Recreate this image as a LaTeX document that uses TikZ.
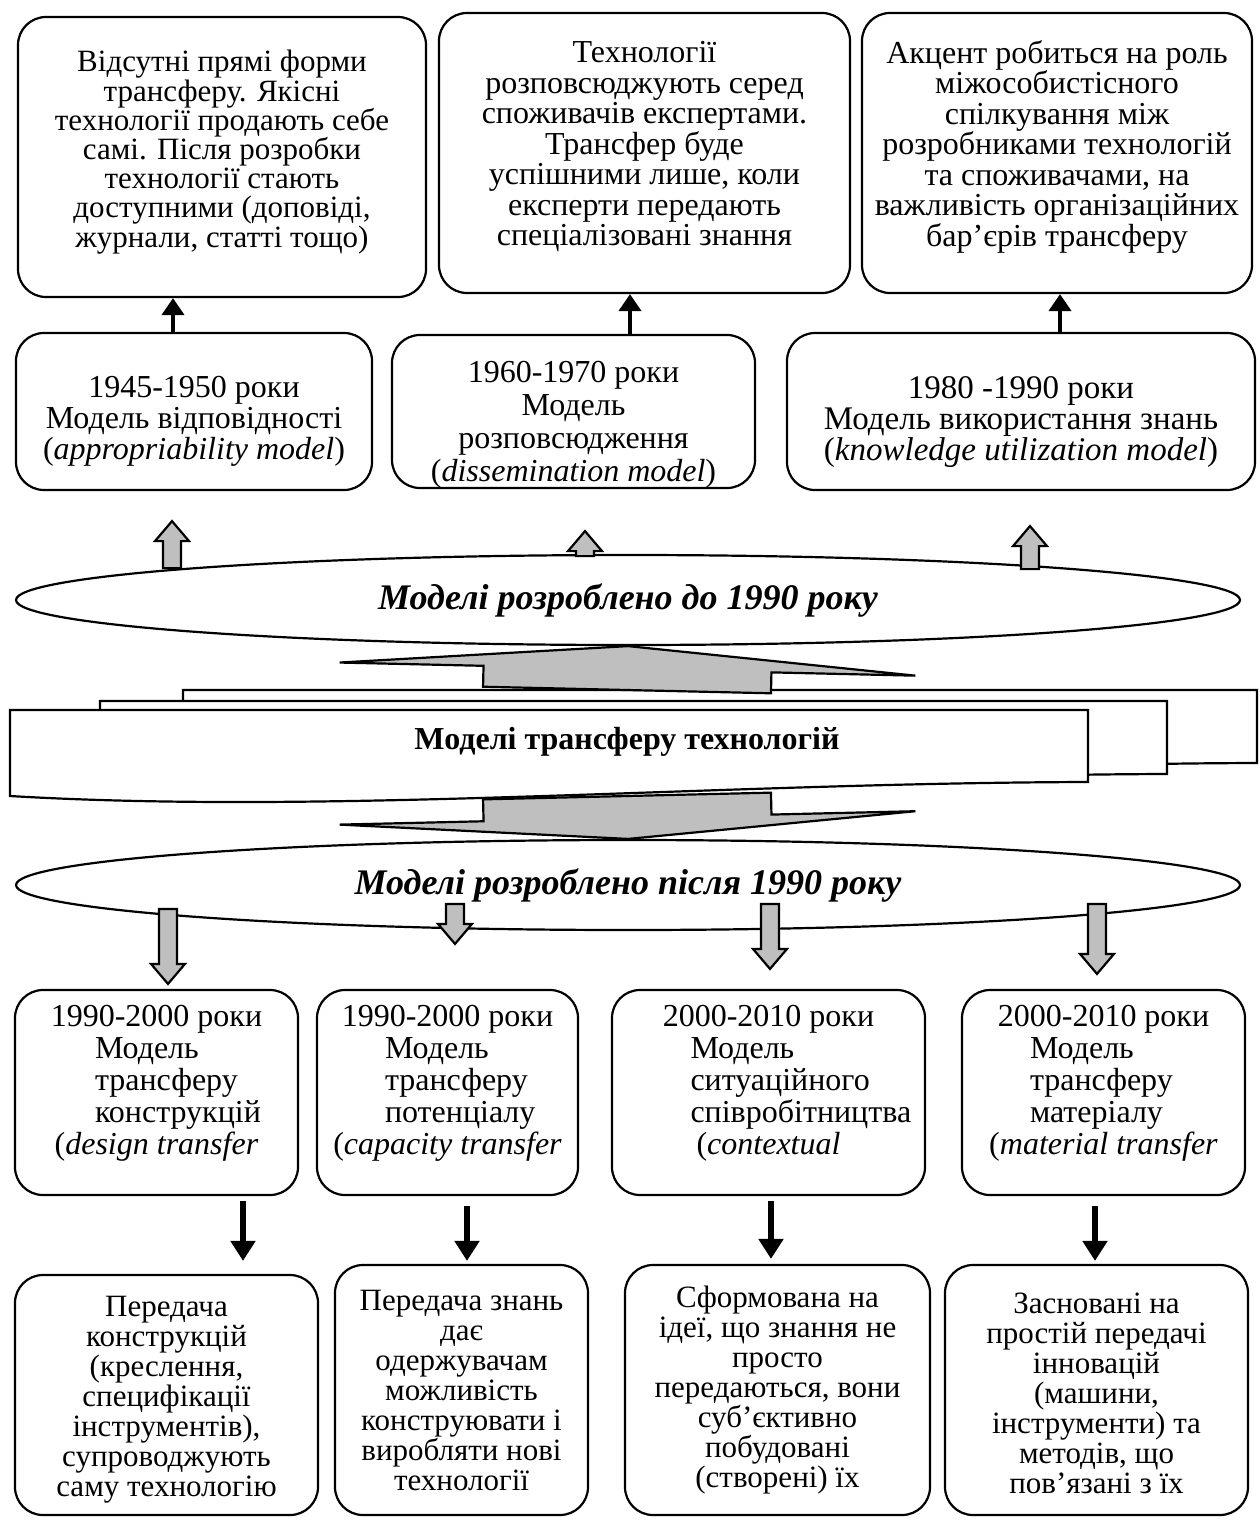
\documentclass[tikz,border=0pt]{standalone}
\usepackage{fontspec}
\setmainfont{Liberation Serif}
\usetikzlibrary{arrows.meta}
\usetikzlibrary{shapes.geometric}
\usetikzlibrary{calc}
\usetikzlibrary{positioning}
\definecolor{arrowgray}{RGB}{191,191,191}
\def\boxfont#1#2{\fontsize{#1}{#2}\selectfont}
\def\fatarrow#1#2#3#4#5{%
  \coordinate (fa) at (#1);
  \coordinate (fb) at (#2);
  \coordinate (fh) at ($(fb)!#5!(fa)$);
  \filldraw[fat] ($(fa)!#3!90:(fb)$) -- ($(fh)!#3!90:(fb)$) -- ($(fh)!#4!90:(fb)$) -- (fb)
    -- ($(fh)!#4!-90:(fb)$) -- ($(fh)!#3!-90:(fb)$) -- ($(fa)!#3!-90:(fb)$) -- cycle;}

\begin{document}
\begin{tikzpicture}[x=0.5pt,y=-0.5pt,line width=1.1pt,
    box/.style={draw,rounded corners=14pt,inner sep=0pt},
    txt/.style={align=center,inner sep=0pt},
    oval/.style={draw,ellipse,minimum width=612pt,minimum height=45pt,
      font=\fontsize{18}{20}\selectfont\bfseries\itshape},
    doc/.style={draw,fill=white},
    fat/.style={fill=arrowgray,draw=black,line width=1.1pt,line join=miter},
    uparr/.style={-{Triangle[width=11pt,length=8.5pt]},line width=2pt},
    downarr/.style={-{Triangle[width=12pt,length=10pt]},line width=3pt}]
  \useasboundingbox (0,0) rectangle (1259,1526);

  \node[box,minimum width=204pt,minimum height=140pt] (a) at (222,157) {};
  \node[box,minimum width=205.5pt,minimum height=140pt] (b) at (644.5,153) {};
  \node[box,minimum width=195pt,minimum height=140pt] (c) at (1057,153) {};
  \node[txt,font=\boxfont{15.5}{14.6}] (atext) at ([yshift=2.5pt]a.center)
    {Відсутні прямі форми\\трансферу. Якісні\\технології продають себе\\самі. Після розробки\\технології стають\\доступними (доповіді,\\журнали, статті тощо)};
  \node[txt,font=\boxfont{16}{15.25}] (btext) at ([yshift=3.25pt]b.center)
    {Технології\\розповсюджують серед\\споживачів експертами.\\Трансфер буде\\успішними лише, коли\\експерти передають\\спеціалізовані знання};
  \node[txt,font=\boxfont{16}{15.25}] (ctext) at ([yshift=3.25pt]c.center)
    {Акцент робиться на роль\\міжособистісного\\спілкування між\\розробниками технологій\\та споживачами, на\\важливість організаційних\\бар’єрів трансферу};

  \node[box,minimum width=178pt,minimum height=78.5pt] (d) at (194,411.5) {};
  \node[box,minimum width=181.5pt,minimum height=76.5pt] (e) at (573.5,411.5) {};
  \node[box,minimum width=234pt,minimum height=78.5pt] (f) at (1021,411.5) {};
  \node[txt,font=\boxfont{16}{15.5}] (dtext) at ([yshift=-5pt]d.center)
    {1945-1950 роки\\Модель відповідності\\(\textit{appropriability model})};
  \node[txt,font=\boxfont{16}{16.5}] (etext) at ([yshift=-6.5pt]e.center)
    {1960-1970 роки\\Модель\\розповсюдження\\(\textit{dissemination model})};
  \node[txt,font=\boxfont{16.5}{15.5}] (ftext) at ([yshift=-5.5pt]f.center)
    {1980 -1990 роки\\Модель використання знань\\(\textit{knowledge utilization model})};

  \draw[uparr] ([xshift=-10.5pt]d.north) -- ([xshift=-24.5pt]a.south);
  \draw[uparr] ([xshift=28.25pt]e.north) -- ([xshift=-7.25pt]b.south);
  \draw[uparr] ([xshift=19.5pt]f.north) -- ([xshift=1.5pt]c.south);

  \node[oval] (ell1) at (628,600) {Моделі розроблено до 1990 року};

  \draw[doc] (183,690) -- (1257,690) -- (1257,763) .. controls (880,764) and (505,796) .. (183,777) -- cycle;
  \draw[doc] (100,701) -- (1167,701) -- (1167,774) .. controls (800,775) and (420,807) .. (100,788) -- cycle;
  \draw[doc] (10,710) -- (1088,710) -- (1088,782) .. controls (711,783) and (333,815) .. (10,796) -- cycle;
  \node[font=\fontsize{16}{18}\selectfont\bfseries] (tt) at (627,742) {Моделі трансферу технологій};
  \coordinate (bt) at (627,690);
  \coordinate (fbot) at (627,796);

  \node[oval] (ell2) at (628,885) {Моделі розроблено після 1990 року};

  \fatarrow{bt}{ell1.south}{72pt}{144pt}{11.5pt}
  \fatarrow{fbot}{ell2.north}{72pt}{144pt}{10.5pt}

  \fatarrow{$(d.south)+(-22,77)$}{$(d.south)+(-22,30)$}{4.5pt}{8.5pt}{10pt}
  \fatarrow{$(e.south)+(11.5,67)$}{$(e.south)+(11.5,42)$}{4.5pt}{8.5pt}{10pt}
  \fatarrow{$(f.south)+(9,78)$}{$(f.south)+(9,35)$}{4.5pt}{8.5pt}{10pt}

  \node[box,minimum width=141.5pt,minimum height=102.5pt] (g) at (156.5,1092.5) {};
  \node[box,minimum width=130.5pt,minimum height=102.5pt] (h) at (447.5,1092.5) {};
  \node[box,minimum width=156.5pt,minimum height=102.5pt] (i) at (768.5,1092.5) {};
  \node[box,minimum width=141.5pt,minimum height=102.5pt] (j) at (1103.5,1092.5) {};
  \node[txt,font=\boxfont{16}{16}] (gtext) at ([yshift=4.75pt]g.center)
    {1990-2000 роки\\\makebox[61.5pt][l]{Модель}\\\makebox[61.5pt][l]{трансферу}\\\makebox[61.5pt][l]{конструкцій}\\(\textit{design transfer}};
  \node[txt,font=\boxfont{16}{16}] (htext) at ([yshift=4.75pt]h.center)
    {1990-2000 роки\\\makebox[62.5pt][l]{Модель}\\\makebox[62.5pt][l]{трансферу}\\\makebox[62.5pt][l]{потенціалу}\\(\textit{capacity transfer}};
  \node[txt,font=\boxfont{16}{16}] (itext) at ([yshift=4.75pt]i.center)
    {2000-2010 роки\\\makebox[78pt][l]{Модель}\\\makebox[78pt][l]{ситуаційного}\\\makebox[78pt][l]{співробітництва}\\(\textit{contextual}};
  \node[txt,font=\boxfont{16}{16}] (jtext) at ([yshift=4.75pt]j.center)
    {2000-2010 роки\\\makebox[73.5pt][l]{Модель}\\\makebox[73.5pt][l]{трансферу}\\\makebox[73.5pt][l]{матеріалу}\\(\textit{material transfer}};

  \fatarrow{$(g.north)+(11.5,-80)$}{$(g.north)+(11.5,-5)$}{4.5pt}{8.5pt}{10pt}
  \fatarrow{$(h.north)+(7.5,-85)$}{$(h.north)+(7.5,-45)$}{4.5pt}{8.5pt}{10pt}
  \fatarrow{$(i.north)+(1.5,-85)$}{$(i.north)+(1.5,-20)$}{4.5pt}{8.5pt}{10pt}
  \fatarrow{$(j.north)+(-6.5,-85)$}{$(j.north)+(-6.5,-15)$}{4.5pt}{8.5pt}{10pt}

  \node[box,minimum width=151.5pt,minimum height=120pt] (k) at (166.5,1395) {};
  \node[box,minimum width=126.5pt,minimum height=125pt] (l) at (461.5,1390) {};
  \node[box,minimum width=152.5pt,minimum height=125pt] (m) at (777.5,1390) {};
  \node[box,minimum width=151.5pt,minimum height=125pt] (n) at (1096.5,1390) {};
  \node[txt,font=\boxfont{15.5}{15}] (ktext) at ([yshift=-2.5pt]k.center)
    {Передача\\конструкцій\\(креслення,\\специфікації\\інструментів),\\супроводжують\\саму технологію};
  \node[txt,font=\boxfont{15.5}{15}] (ltext) at (l.center)
    {Передача знань\\дає\\одержувачам\\можливість\\конструювати і\\виробляти нові\\технології};
  \node[txt,font=\boxfont{15.5}{15}] (mtext) at (m.center)
    {Сформована на\\ідеї, що знання не\\просто\\передаються, вони\\суб’єктивно\\побудовані\\(створені) їх};
  \node[txt,font=\boxfont{15.5}{15}] (ntext) at ([yshift=-1.5pt]n.center)
    {Засновані на\\простій передачі\\інновацій\\(машини,\\інструменти) та\\методів, що\\пов’язані з їх};

  \draw[downarr,shorten <=2.5pt,shorten >=6.5pt] ([xshift=43.25pt]g.south) -- ([xshift=38.25pt]k.north);
  \draw[downarr,shorten <=5pt,shorten >=1.5pt] ([xshift=9.75pt]h.south) -- ([xshift=2.75pt]l.north);
  \draw[downarr,shorten <=2.5pt,shorten >=2.5pt] ([xshift=1.25pt]i.south) -- ([xshift=-3.25pt]m.north);
  \draw[downarr,shorten <=5pt,shorten >=1.5pt] ([xshift=-4.25pt]j.south) -- ([xshift=-0.75pt]n.north);
\end{tikzpicture}
\end{document}
